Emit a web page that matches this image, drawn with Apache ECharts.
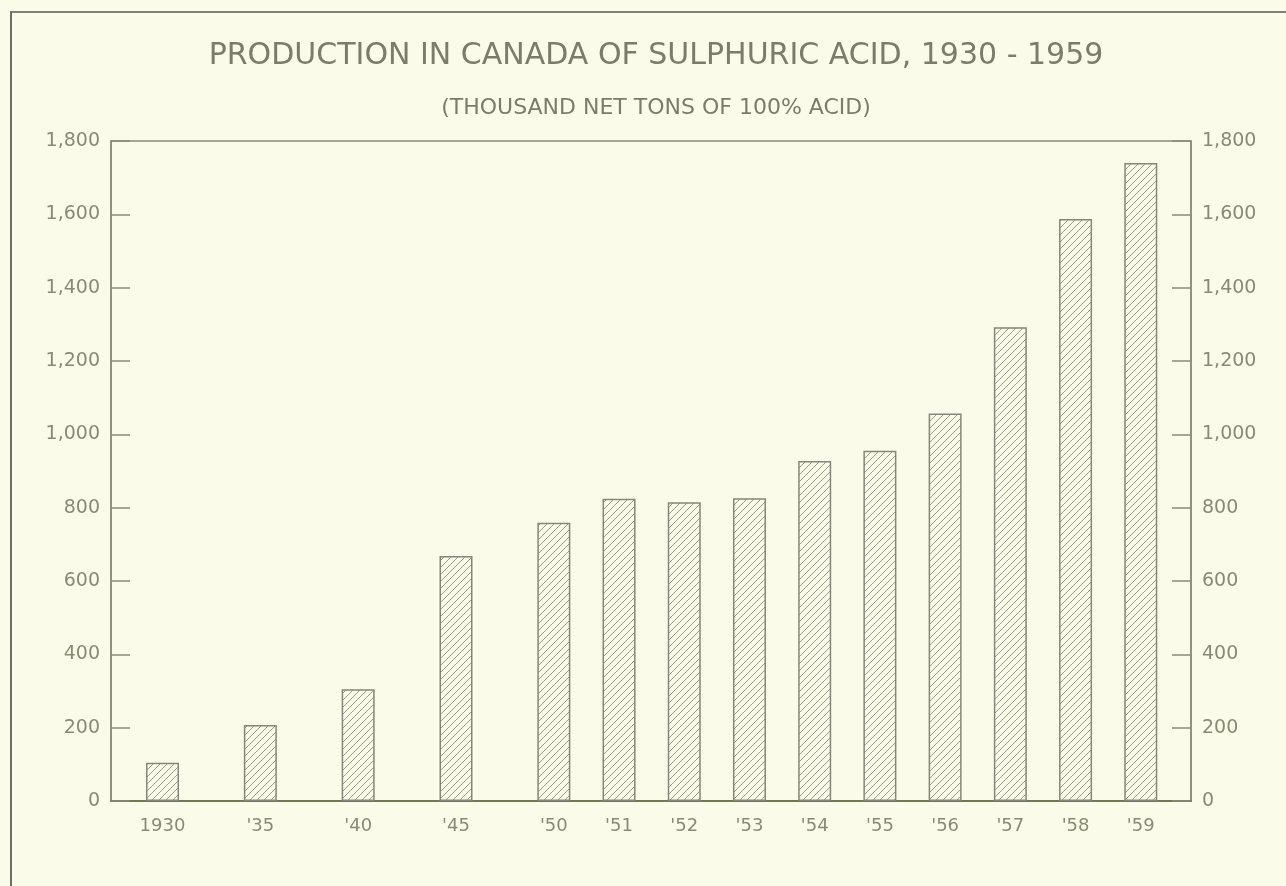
<!DOCTYPE html>
<html>
<head>
<meta charset="utf-8">
<style>
  html, body { margin: 0; padding: 0; background: #fbfbea; }
  #chart { width: 1286px; height: 886px; }
</style>
<script src="https://cdn.jsdelivr.net/npm/echarts@6/dist/echarts.min.js"></script>
</head>
<body>
<div id="chart"></div>
<script>
// ---- data ----
const years = [1930, 1935, 1940, 1945, 1950, 1951, 1952, 1953, 1954, 1955, 1956, 1957, 1958, 1959];
const yearLabels = ["1930", "'35", "'40", "'45", "'50", "'51", "'52", "'53", "'54", "'55", "'56", "'57", "'58", "'59"];
const production = [104, 207, 305, 668, 759, 824, 815, 826, 927, 955, 1057, 1292, 1587, 1740];
const yTicks = [0, 200, 400, 600, 800, 1000, 1200, 1400, 1600, 1800];

// the drawing uses a compressed time scale: 5-year gaps are 1.5 slots, 1-year gaps 1 slot
const slots = [];
years.forEach((y, i) => {
  if (i === 0) slots.push(0);
  else slots.push(slots[i - 1] + (y - years[i - 1] > 1 ? 1.5 : 1));
});
const labelBySlot = {};
slots.forEach((s, i) => { labelBySlot[s] = yearLabels[i]; });

// hatch pattern
const pat = document.createElement('canvas');
pat.width = 7; pat.height = 7;
const pc = pat.getContext('2d');
pc.fillStyle = '#fbfbea';
pc.fillRect(0, 0, 7, 7);
pc.strokeStyle = '#9c9c8c';
pc.lineWidth = 1;
pc.beginPath();
pc.moveTo(-1, 8); pc.lineTo(8, -1);
pc.moveTo(-1, 1); pc.lineTo(1, -1);
pc.moveTo(6, 8); pc.lineTo(8, 6);
pc.stroke();

const textColor = '#8a8a74';
const fontFam = '"DejaVu Sans", sans-serif';

const chart = echarts.init(document.getElementById('chart'), null, { renderer: 'canvas' });

const yAxisCommon = {
  type: 'value',
  min: 0,
  max: 1800,
  interval: 200,
  axisLine: { show: true, onZero: false, lineStyle: { color: '#8a8a7a', width: 1.5 } },
  axisTick: { show: true, inside: true, length: 19, lineStyle: { color: '#8a8a7a', width: 1.5 } },
  splitLine: { show: false },
  axisLabel: {
    color: textColor,
    fontFamily: fontFam,
    fontSize: 19,
    margin: 11,
    formatter: v => v.toLocaleString('en-US')
  }
};

chart.setOption({
  backgroundColor: '#fbfbea',
  animation: false,
  title: [
    {
      text: 'PRODUCTION IN CANADA OF SULPHURIC ACID, 1930 - 1959',
      left: 651, top: 36, textAlign: 'center',
      textStyle: { color: '#7c7c6c', fontFamily: fontFam, fontSize: 30, fontWeight: 'normal' }
    },
    {
      text: '(THOUSAND NET TONS OF 100% ACID)',
      left: 651, top: 92, textAlign: 'center',
      textStyle: { color: '#7c7c6c', fontFamily: fontFam, fontSize: 22, fontWeight: 'normal' }
    }
  ],
  grid: {
    left: 111, right: 95, top: 141, bottom: 85,
    show: true, borderColor: '#8a8a7a', borderWidth: 1.5, backgroundColor: 'transparent'
  },
  xAxis: {
    type: 'value',
    min: -0.79,
    max: 15.77,
    axisLine: { show: true, onZero: false, lineStyle: { color: '#6f7a52', width: 2 } },
    axisTick: { show: false },
    splitLine: { show: false },
    axisLabel: {
      customValues: slots,
      color: textColor,
      fontFamily: fontFam,
      fontSize: 18,
      margin: 16,
      formatter: v => labelBySlot[v] !== undefined ? labelBySlot[v] : ''
    }
  },
  yAxis: [
    Object.assign({}, yAxisCommon, { position: 'left' }),
    Object.assign({}, yAxisCommon, { position: 'right', axisLabel: Object.assign({}, yAxisCommon.axisLabel) })
  ],
  series: [{
    type: 'bar',
    yAxisIndex: 0,
    barWidth: 33,
    data: slots.map((s, i) => [s, production[i]]),
    itemStyle: {
      color: { image: pat, repeat: 'repeat' },
      borderColor: '#86867a',
      borderWidth: 1.5
    }
  }],
  graphic: [
    { type: 'line', shape: { x1: 10, y1: 12, x2: 1286, y2: 12 }, style: { stroke: '#80807a', lineWidth: 2 } },
    { type: 'line', shape: { x1: 11, y1: 12, x2: 11, y2: 886 }, style: { stroke: '#6e6e66', lineWidth: 2 } }
  ]
});
</script>
</body>
</html>
